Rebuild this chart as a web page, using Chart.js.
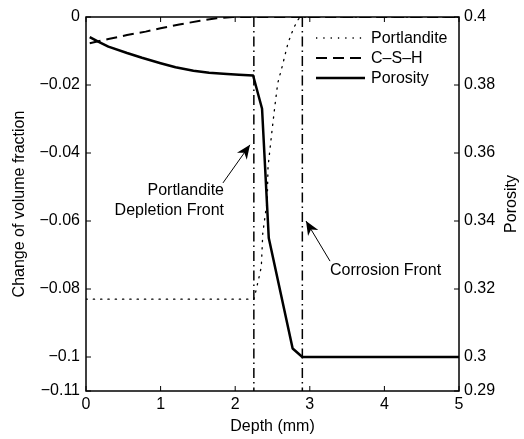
<!DOCTYPE html>
<html>
<head>
<meta charset="utf-8">
<script src="https://cdn.jsdelivr.net/npm/chart.js@4.4.1/dist/chart.umd.min.js"></script>
<style>
html,body{margin:0;padding:0;background:#fff;}
#wrap{width:524px;height:439px;position:relative;}
</style>
</head>
<body>
<div id="wrap"><canvas id="c" width="524" height="439"></canvas></div>
<script>
// ---- data ----
const portlanditeX = [0, 2.25, 2.29, 2.35, 2.37, 2.43, 2.44, 2.49, 2.53, 2.57, 2.63, 2.71, 2.78, 2.83, 2.87, 5];
const portlanditeY = [-0.083, -0.083, -0.0794, -0.0735, -0.0635, -0.0538, -0.0441, -0.0341, -0.0265, -0.0195, -0.0145, -0.0075, -0.0035, -0.0012, 0, 0];

const cshX = [0.05, 0.3, 0.55, 0.8, 1.0, 1.25, 1.53, 1.75, 1.97, 5];
const cshY = [-0.0077, -0.0065, -0.0053, -0.0043, -0.0033, -0.0022, -0.0011, -0.0004, 0, 0];

const porosityX = [0.05, 0.17, 0.3, 0.55, 0.75, 1.0, 1.2, 1.44, 1.65, 1.89, 2.05, 2.24, 2.36, 2.45, 2.77, 2.9, 5];
const porosityY = [0.3941, 0.3927, 0.3913, 0.3894, 0.3880, 0.3864, 0.3852, 0.3842, 0.3836, 0.3832, 0.3830, 0.3828, 0.373, 0.335, 0.3025, 0.3, 0.3];

const depletionFrontX = 2.25;
const corrosionFrontX = 2.9;

const xTicks = [0, 1, 2, 3, 4, 5];
const yTicks = [0, -0.02, -0.04, -0.06, -0.08, -0.1, -0.11];
const yTickLabels = ['0', '\u22120.02', '\u22120.04', '\u22120.06', '\u22120.08', '\u22120.1', '\u22120.11'];
const y2Ticks = [0.4, 0.38, 0.36, 0.34, 0.32, 0.3, 0.29];
const y2TickLabels = ['0.4', '0.38', '0.36', '0.34', '0.32', '0.3', '0.29'];

const seriesNames = ['Portlandite', 'C\u2013S\u2013H', 'Porosity'];

const FONT = '"Liberation Sans", Arial, Helvetica, sans-serif';

function pts(xs, ys) { return xs.map((x, i) => ({x: x, y: ys[i]})); }

const styles = [
  {borderWidth: 1.3, borderDash: [1.3, 6]},
  {borderWidth: 2, borderDash: [11, 6]},
  {borderWidth: 2.5, borderDash: []}
];

const legendPlugin = {
  id: 'customLegend',
  afterDatasetsDraw(chart) {
    const ctx = chart.ctx;
    ctx.save();
    ctx.strokeStyle = '#000';
    ctx.fillStyle = '#000';
    ctx.font = '16px ' + FONT;
    ctx.textBaseline = 'middle';
    ctx.textAlign = 'left';
    const rows = [38, 58, 78];
    seriesNames.forEach((n, i) => {
      ctx.beginPath();
      ctx.lineWidth = styles[i].borderWidth;
      ctx.setLineDash(styles[i].borderDash);
      ctx.moveTo(316, rows[i]);
      ctx.lineTo(365, rows[i]);
      ctx.stroke();
      ctx.setLineDash([]);
      ctx.fillText(n, 371, rows[i] + 1);
    });
    ctx.restore();
  }
};

function arrow(ctx, x1, y1, x2, y2) {
  ctx.beginPath();
  ctx.lineWidth = 1;
  ctx.moveTo(x1, y1);
  ctx.lineTo(x2, y2);
  ctx.stroke();
  const a = Math.atan2(y2 - y1, x2 - x1);
  const L = 14, W = 6;
  const bx = x2 - L * Math.cos(a), by = y2 - L * Math.sin(a);
  const mx = x2 - (L * 0.7) * Math.cos(a), my = y2 - (L * 0.7) * Math.sin(a);
  ctx.beginPath();
  ctx.moveTo(x2, y2);
  ctx.lineTo(bx + W * Math.sin(a), by - W * Math.cos(a));
  ctx.lineTo(mx, my);
  ctx.lineTo(bx - W * Math.sin(a), by + W * Math.cos(a));
  ctx.closePath();
  ctx.fill();
}

const annotPlugin = {
  id: 'annot',
  afterDraw(chart) {
    const ctx = chart.ctx;
    const xs = chart.scales.x, ys = chart.scales.y;
    const ca = chart.chartArea;
    const X = v => xs.getPixelForValue(v), Y = v => ys.getPixelForValue(v);
    ctx.save();
    ctx.strokeStyle = '#000';
    ctx.fillStyle = '#000';
    // box
    ctx.lineWidth = 1.5;
    ctx.strokeRect(ca.left, ca.top, ca.right - ca.left, ca.bottom - ca.top);
    // inward ticks
    ctx.lineWidth = 1;
    const tl = 5;
    xTicks.forEach(v => {
      const p = X(v);
      ctx.beginPath();
      ctx.moveTo(p, ca.bottom); ctx.lineTo(p, ca.bottom - tl);
      ctx.moveTo(p, ca.top); ctx.lineTo(p, ca.top + tl);
      ctx.stroke();
    });
    yTicks.forEach(v => {
      const p = Y(v);
      ctx.beginPath();
      ctx.moveTo(ca.left, p); ctx.lineTo(ca.left + tl, p);
      ctx.stroke();
    });
    y2Ticks.forEach(v => {
      const p = chart.scales.y2.getPixelForValue(v);
      ctx.beginPath();
      ctx.moveTo(ca.right, p); ctx.lineTo(ca.right - tl, p);
      ctx.stroke();
    });
    // annotations
    arrow(ctx, X(1.836), Y(-0.0488), X(2.198), Y(-0.0376));
    arrow(ctx, X(3.271), Y(-0.0718), X(2.949), Y(-0.06));
    ctx.font = '16px ' + FONT;
    ctx.textBaseline = 'middle';
    ctx.textAlign = 'right';
    ctx.fillText('Portlandite', X(1.85), Y(-0.0512));
    ctx.fillText('Depletion Front', X(1.85), Y(-0.0568));
    ctx.textAlign = 'left';
    ctx.fillText('Corrosion Front', X(3.27), Y(-0.0747));
    // axis titles
    ctx.textAlign = 'center';
    ctx.fillText('Depth (mm)', (ca.left + ca.right) / 2, 427);
    const cy = (ca.top + ca.bottom) / 2;
    ctx.save();
    ctx.translate(20, cy);
    ctx.rotate(-Math.PI / 2);
    ctx.fillText('Change of volume fraction', 0, 0);
    ctx.restore();
    ctx.save();
    ctx.translate(512, cy);
    ctx.rotate(-Math.PI / 2);
    ctx.fillText('Porosity', 0, 0);
    ctx.restore();
    ctx.restore();
  }
};

const tickFont = {family: FONT, size: 16};

new Chart(document.getElementById('c'), {
  type: 'line',
  data: {
    datasets: [
      {label: seriesNames[0], data: pts(portlanditeX, portlanditeY), yAxisID: 'y',
       borderColor: '#000', borderWidth: styles[0].borderWidth, borderDash: styles[0].borderDash, borderCapStyle: 'round', pointRadius: 0, tension: 0, fill: false},
      {label: seriesNames[1], data: pts(cshX, cshY), yAxisID: 'y',
       borderColor: '#000', borderWidth: styles[1].borderWidth, borderDash: styles[1].borderDash, pointRadius: 0, tension: 0, fill: false},
      {label: seriesNames[2], data: pts(porosityX, porosityY), yAxisID: 'y2',
       borderColor: '#000', borderWidth: styles[2].borderWidth, pointRadius: 0, tension: 0, fill: false, borderJoinStyle: 'round'},
      {label: 'depletion', data: [{x: depletionFrontX, y: 0}, {x: depletionFrontX, y: -0.11}], yAxisID: 'y',
       borderColor: '#000', borderWidth: 1.5, borderDash: [10, 4, 1.5, 4], pointRadius: 0, fill: false},
      {label: 'corrosion', data: [{x: corrosionFrontX, y: 0}, {x: corrosionFrontX, y: -0.11}], yAxisID: 'y',
       borderColor: '#000', borderWidth: 1.5, borderDash: [10, 4, 1.5, 4], pointRadius: 0, fill: false}
    ]
  },
  options: {
    responsive: false,
    animation: false,
    layout: {padding: {top: 17, left: 0, right: 0, bottom: 0}},
    plugins: {legend: {display: false}, tooltip: {enabled: false}},
    scales: {
      x: {
        type: 'linear', min: 0, max: 5,
        afterBuildTicks: s => { s.ticks = xTicks.map(v => ({value: v})); },
        afterFit: s => { s.height = 48; },
        ticks: {color: '#000', font: tickFont, padding: 4, maxRotation: 0, callback: v => String(v)},
        grid: {display: false, drawTicks: false},
        border: {display: false}
      },
      y: {
        type: 'linear', position: 'left', min: -0.11, max: 0,
        afterBuildTicks: s => { s.ticks = yTicks.map(v => ({value: v})); },
        afterFit: s => { s.width = 86; },
        ticks: {color: '#000', font: tickFont, padding: 6, callback: (v, i) => yTickLabels[i]},
        grid: {display: false, drawTicks: false},
        border: {display: false}
      },
      y2: {
        type: 'linear', position: 'right', min: 0.29, max: 0.4,
        afterBuildTicks: s => { s.ticks = y2Ticks.map(v => ({value: v})); },
        afterFit: s => { s.width = 65; },
        ticks: {color: '#000', font: tickFont, padding: 5, callback: (v, i) => y2TickLabels[i]},
        grid: {display: false, drawTicks: false},
        border: {display: false}
      }
    }
  },
  plugins: [legendPlugin, annotPlugin]
});
</script>
</body>
</html>
